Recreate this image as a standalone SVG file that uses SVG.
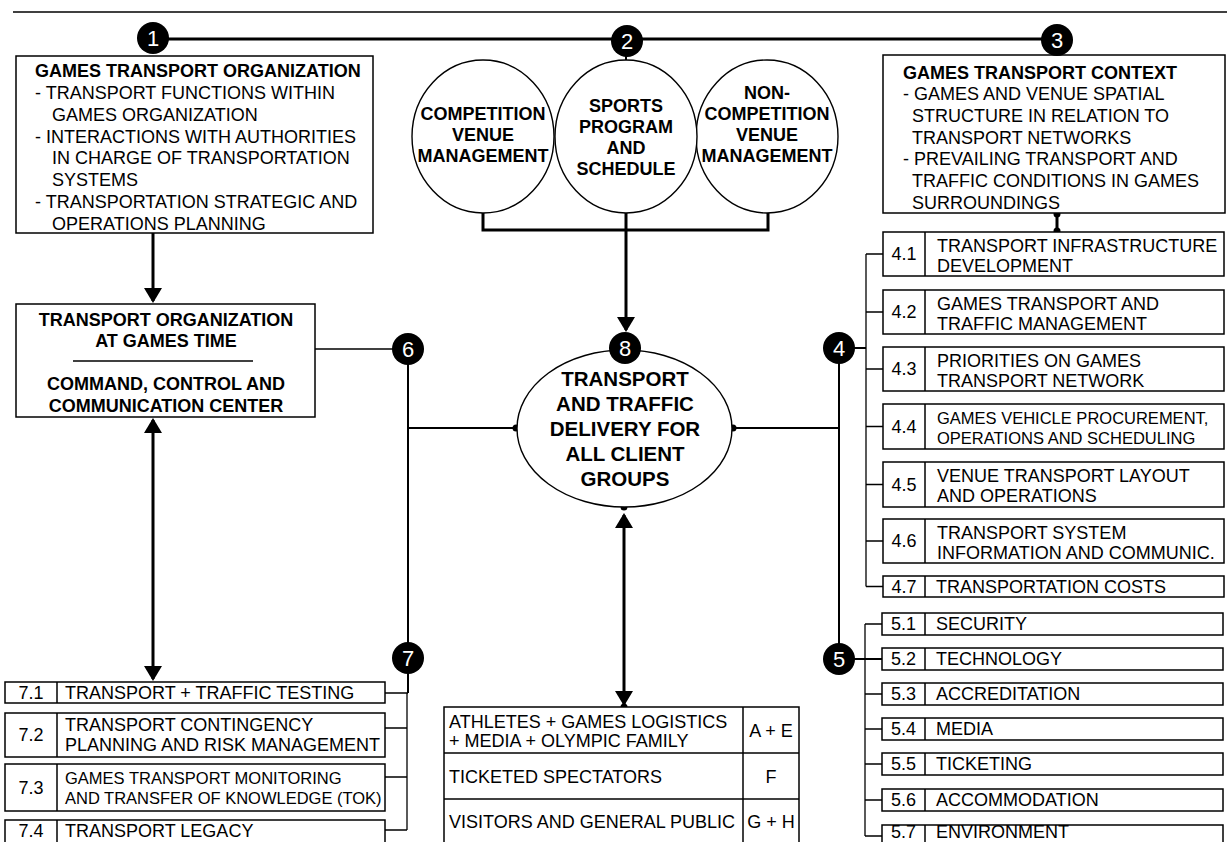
<svg xmlns="http://www.w3.org/2000/svg" width="1227" height="842" viewBox="0 0 1227 842">
<defs>
<style>
text{font-family:"Liberation Sans",Arial,sans-serif;font-size:18px;fill:#000}
.b{font-weight:bold}
.c{text-anchor:middle}
.sm{font-size:16.5px}
.big{font-size:20.5px;font-weight:bold;text-anchor:middle}
.num{font-size:22px;fill:#fff;text-anchor:middle}
.box{fill:#fff;stroke:#000;stroke-width:1.5}
.shape{fill:#fff;stroke:#000;stroke-width:1.4}
.badge{fill:#000}
.thick{stroke:#000;stroke-width:3;fill:none}
.mid{stroke:#000;stroke-width:2;fill:none}
.thin{stroke:#000;stroke-width:1.3;fill:none}
.sep{stroke:#000;stroke-width:1.5;fill:none}
.dot{fill:#000}
</style>
<marker id="ah" markerUnits="userSpaceOnUse" markerWidth="16" markerHeight="18" refX="13" refY="9" orient="auto-start-reverse" overflow="visible">
<path d="M0,0 L15,9 L0,18 Z" fill="#000"/>
</marker>
</defs>
<rect width="1227" height="842" fill="#fff"/>
<line x1="13" y1="12" x2="1227" y2="12" stroke="#000" stroke-width="1.5"/>

<g id="connectors">
<line class="thick" x1="153" y1="39" x2="1057" y2="39"/>
<line class="mid" x1="626" y1="55" x2="626" y2="61"/>
<polyline class="thick" points="483,213 483,230 768,230 768,213"/>
<line class="thick" x1="626" y1="213" x2="626" y2="330" marker-end="url(#ah)"/>
<line class="thick" x1="153" y1="233" x2="153" y2="301" marker-end="url(#ah)"/>
<line class="thick" x1="153" y1="420" x2="153" y2="679" marker-start="url(#ah)" marker-end="url(#ah)"/>
<line class="thick" x1="624" y1="515" x2="624" y2="704" marker-start="url(#ah)" marker-end="url(#ah)"/>
<line class="thick" x1="1057" y1="214" x2="1057" y2="231"/>
<circle class="dot" cx="1057" cy="214" r="3.5"/>
<circle class="dot" cx="1057" cy="231" r="3.5"/>
<circle class="dot" cx="624" cy="507" r="3.5"/>
<circle class="dot" cx="624" cy="707" r="3.5"/>
<line class="thin" x1="315" y1="349" x2="408" y2="349"/>
<line class="mid" x1="408" y1="349" x2="408" y2="693"/>
<line class="mid" x1="408" y1="428" x2="516" y2="428"/>
<circle class="dot" cx="516" cy="428" r="3.5"/>
<line class="mid" x1="733" y1="428" x2="839" y2="428"/>
<circle class="dot" cx="733" cy="428" r="3.5"/>
<line class="mid" x1="839" y1="348" x2="839" y2="658"/>
<line class="mid" x1="839" y1="348" x2="866" y2="348"/>
<line class="mid" x1="839" y1="659" x2="882" y2="659"/>
<line class="thin" x1="866" y1="254" x2="866" y2="586.5"/>
<path class="thin" d="M866,254H883M866,312H883M866,369H883M866,426.5H883M866,484.5H883M866,541H883M866,586.5H883"/>
<line class="thin" x1="865" y1="624" x2="865" y2="836"/>
<path class="thin" d="M865,624H882M865,694H882M865,729H882M865,764H882M865,800H882M865,836H882"/>
<line class="thin" x1="407" y1="693" x2="407" y2="830"/>
<path class="thin" d="M385,693H408M385,728H407M385,777H407M385,830H407"/>
</g>

<g id="n1-organization">
<rect class="box" x="16" y="56" width="357" height="177"/>
<text class="b" x="35" y="77">GAMES TRANSPORT ORGANIZATION</text>
<text x="35" y="98.9">- TRANSPORT FUNCTIONS WITHIN</text>
<text x="52" y="120.7">GAMES ORGANIZATION</text>
<text x="35" y="142.6">- INTERACTIONS WITH AUTHORITIES</text>
<text x="52" y="164.4">IN CHARGE OF TRANSPORTATION</text>
<text x="52" y="186.3">SYSTEMS</text>
<text x="35" y="208.1">- TRANSPORTATION STRATEGIC AND</text>
<text x="52" y="229.5">OPERATIONS PLANNING</text>
</g>

<g id="n2-competition">
<ellipse class="shape" cx="483" cy="136.5" rx="71" ry="76.5"/>
<text class="b c" x="483" y="119.5">COMPETITION</text>
<text class="b c" x="483" y="140.8">VENUE</text>
<text class="b c" x="483" y="162.1">MANAGEMENT</text>
</g>
<g id="n2-noncompetition">
<ellipse class="shape" cx="767" cy="136.5" rx="71" ry="76.5"/>
<text class="b c" x="767" y="98.5">NON-</text>
<text class="b c" x="767" y="119.5">COMPETITION</text>
<text class="b c" x="767" y="140.8">VENUE</text>
<text class="b c" x="767" y="162.1">MANAGEMENT</text>
</g>
<g id="n2-sports">
<ellipse class="shape" cx="626" cy="136.5" rx="71" ry="76.5"/>
<text class="b c" x="626" y="111.5">SPORTS</text>
<text class="b c" x="626" y="132.7">PROGRAM</text>
<text class="b c" x="626" y="153.9">AND</text>
<text class="b c" x="626" y="175.1">SCHEDULE</text>
</g>

<g id="n3-context">
<rect class="box" x="883" y="55" width="342" height="158"/>
<text class="b" x="903" y="78.5">GAMES TRANSPORT CONTEXT</text>
<text x="903" y="100.2">- GAMES AND VENUE SPATIAL</text>
<text x="912" y="121.9">STRUCTURE IN RELATION TO</text>
<text x="912" y="143.6">TRANSPORT NETWORKS</text>
<text x="903" y="165.3">- PREVAILING TRANSPORT AND</text>
<text x="912" y="187">TRAFFIC CONDITIONS IN GAMES</text>
<text x="912" y="208.5">SURROUNDINGS</text>
</g>

<g id="n6-games-time">
<rect class="box" x="16" y="304" width="299" height="113"/>
<text class="b c" x="166" y="325.5">TRANSPORT ORGANIZATION</text>
<text class="b c" x="166" y="346.5">AT GAMES TIME</text>
<line class="thin" x1="73" y1="361" x2="253" y2="361"/>
<text class="b c" x="166" y="389.5">COMMAND, CONTROL AND</text>
<text class="b c" x="166" y="411.5">COMMUNICATION CENTER</text>
</g>

<g id="n8-delivery">
<ellipse class="shape" cx="624.5" cy="428.5" rx="107.5" ry="78.5"/>
<text class="big" x="625" y="386">TRANSPORT</text>
<text class="big" x="625" y="411">AND TRAFFIC</text>
<text class="big" x="625" y="436">DELIVERY FOR</text>
<text class="big" x="625" y="461">ALL CLIENT</text>
<text class="big" x="625" y="486">GROUPS</text>
</g>

<g id="n4-list">
<rect class="box" x="883" y="232" width="341" height="44"/>
<line class="sep" x1="925" y1="232" x2="925" y2="276"/>
<text class="c" x="904" y="260.4">4.1</text>
<text x="937" y="251.5">TRANSPORT INFRASTRUCTURE</text>
<text x="937" y="272">DEVELOPMENT</text>

<rect class="box" x="883" y="290" width="341" height="44"/>
<line class="sep" x1="925" y1="290" x2="925" y2="334"/>
<text class="c" x="904" y="318.4">4.2</text>
<text x="937" y="309.5">GAMES TRANSPORT AND</text>
<text x="937" y="330">TRAFFIC MANAGEMENT</text>

<rect class="box" x="883" y="347" width="341" height="44"/>
<line class="sep" x1="925" y1="347" x2="925" y2="391"/>
<text class="c" x="904" y="375.4">4.3</text>
<text x="937" y="366.5">PRIORITIES ON GAMES</text>
<text x="937" y="387">TRANSPORT NETWORK</text>

<rect class="box" x="883" y="404" width="341" height="45"/>
<line class="sep" x1="925" y1="404" x2="925" y2="449"/>
<text class="c" x="904" y="432.9">4.4</text>
<text class="sm" x="937" y="424">GAMES VEHICLE PROCUREMENT,</text>
<text class="sm" x="937" y="444">OPERATIONS AND SCHEDULING</text>

<rect class="box" x="883" y="462" width="341" height="45"/>
<line class="sep" x1="925" y1="462" x2="925" y2="507"/>
<text class="c" x="904" y="490.9">4.5</text>
<text x="937" y="481.5">VENUE TRANSPORT LAYOUT</text>
<text x="937" y="502">AND OPERATIONS</text>

<rect class="box" x="883" y="519" width="341" height="44"/>
<line class="sep" x1="925" y1="519" x2="925" y2="563"/>
<text class="c" x="904" y="547.4">4.6</text>
<text x="937" y="538.5">TRANSPORT SYSTEM</text>
<text x="937" y="559">INFORMATION AND COMMUNIC.</text>

<rect class="box" x="883" y="576" width="341" height="21"/>
<line class="sep" x1="925" y1="576" x2="925" y2="597"/>
<text class="c" x="904" y="593">4.7</text>
<text x="936" y="593">TRANSPORTATION COSTS</text>
</g>

<g id="n5-list">
<rect class="box" x="882" y="613" width="341" height="22"/>
<line class="sep" x1="925" y1="613" x2="925" y2="635"/>
<text class="c" x="903.5" y="630.4">5.1</text>
<text x="936" y="630.4">SECURITY</text>
<rect class="box" x="882" y="648" width="341" height="22"/>
<line class="sep" x1="925" y1="648" x2="925" y2="670"/>
<text class="c" x="903.5" y="665.4">5.2</text>
<text x="936" y="665.4">TECHNOLOGY</text>
<rect class="box" x="882" y="683" width="341" height="22"/>
<line class="sep" x1="925" y1="683" x2="925" y2="705"/>
<text class="c" x="903.5" y="700.4">5.3</text>
<text x="936" y="700.4">ACCREDITATION</text>
<rect class="box" x="882" y="718" width="341" height="22"/>
<line class="sep" x1="925" y1="718" x2="925" y2="740"/>
<text class="c" x="903.5" y="735.4">5.4</text>
<text x="936" y="735.4">MEDIA</text>
<rect class="box" x="882" y="753" width="341" height="22"/>
<line class="sep" x1="925" y1="753" x2="925" y2="775"/>
<text class="c" x="903.5" y="770.4">5.5</text>
<text x="936" y="770.4">TICKETING</text>
<rect class="box" x="882" y="789" width="341" height="22"/>
<line class="sep" x1="925" y1="789" x2="925" y2="811"/>
<text class="c" x="903.5" y="806.4">5.6</text>
<text x="936" y="806.4">ACCOMMODATION</text>
<rect class="box" x="882" y="825" width="341" height="24"/>
<line class="sep" x1="925" y1="825" x2="925" y2="849"/>
<text class="c" x="903.5" y="838">5.7</text>
<text x="936" y="838">ENVIRONMENT</text>
</g>

<g id="n7-list">
<rect class="box" x="5" y="682" width="380" height="21"/>
<line class="sep" x1="57" y1="682" x2="57" y2="703"/>
<text class="c" x="31" y="699">7.1</text>
<text x="65" y="699">TRANSPORT + TRAFFIC TESTING</text>
<rect class="box" x="5" y="713" width="380" height="44"/>
<line class="sep" x1="57" y1="713" x2="57" y2="757"/>
<text class="c" x="31" y="741.4">7.2</text>
<text x="65" y="731.4">TRANSPORT CONTINGENCY</text>
<text x="65" y="751.4">PLANNING AND RISK MANAGEMENT</text>
<rect class="box" x="5" y="764" width="380" height="47"/>
<line class="sep" x1="57" y1="764" x2="57" y2="811"/>
<text class="c" x="31" y="794">7.3</text>
<text class="sm" x="65" y="784">GAMES TRANSPORT MONITORING</text>
<text class="sm" x="65" y="804">AND TRANSFER OF KNOWLEDGE (TOK)</text>
<rect class="box" x="5" y="820" width="380" height="28"/>
<line class="sep" x1="57" y1="820" x2="57" y2="848"/>
<text class="c" x="31" y="837">7.4</text>
<text x="65" y="837">TRANSPORT LEGACY</text>
</g>

<g id="client-groups">
<rect class="box" x="444" y="707" width="355" height="141"/>
<line class="sep" x1="743" y1="707" x2="743" y2="848"/>
<line class="sep" x1="444" y1="753" x2="799" y2="753"/>
<line class="sep" x1="444" y1="799" x2="799" y2="799"/>
<text x="449" y="728.4">ATHLETES + GAMES LOGISTICS</text>
<text x="449" y="747.4">+ MEDIA + OLYMPIC FAMILY</text>
<text class="c" x="771" y="737.4">A + E</text>
<text x="449" y="783.4">TICKETED SPECTATORS</text>
<text class="c" x="771" y="783.4">F</text>
<text x="449" y="828.4">VISITORS AND GENERAL PUBLIC</text>
<text class="c" x="771" y="828.4">G + H</text>
</g>

<g id="badges">
<g id="b1"><circle class="badge" cx="153" cy="38" r="16"/><text class="num" x="153" y="46">1</text></g>
<g id="b2"><circle class="badge" cx="627" cy="41" r="16"/><text class="num" x="627" y="49">2</text></g>
<g id="b3"><circle class="badge" cx="1057" cy="40" r="16"/><text class="num" x="1057" y="48">3</text></g>
<g id="b4"><circle class="badge" cx="839" cy="348" r="16"/><text class="num" x="839" y="356">4</text></g>
<g id="b5"><circle class="badge" cx="839" cy="659" r="16"/><text class="num" x="839" y="667">5</text></g>
<g id="b6"><circle class="badge" cx="408" cy="349" r="16"/><text class="num" x="408" y="357">6</text></g>
<g id="b7"><circle class="badge" cx="408" cy="658" r="16"/><text class="num" x="408" y="666">7</text></g>
<g id="b8"><circle class="badge" cx="625" cy="348" r="16"/><text class="num" x="625" y="356">8</text></g>
</g>
</svg>
